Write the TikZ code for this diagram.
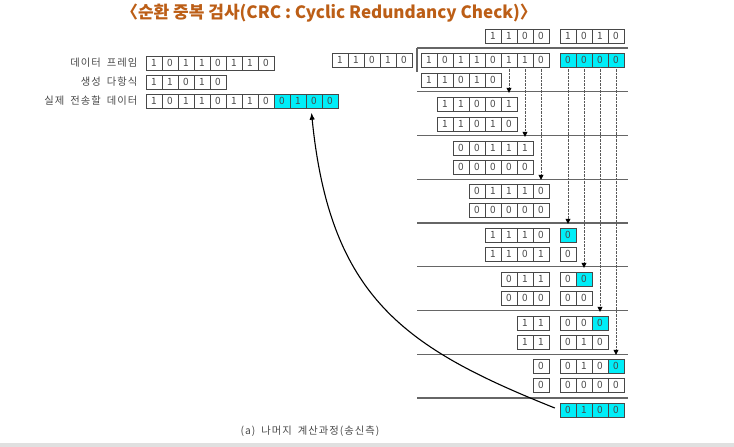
\documentclass[tikz,border=0pt]{standalone}
\usepackage{fontspec}
\setmainfont{Noto Sans CJK KR}
\newfontfamily\krspaced[LetterSpace=10,WordSpace=1.8]{Noto Sans CJK KR}
\usetikzlibrary{arrows.meta}

\definecolor{hotcyan}{RGB}{0,238,248}
\definecolor{titlebrown}{RGB}{188,94,22}
\definecolor{inkgray}{RGB}{72,72,72}

\tikzset{
  cell/.style={draw=inkgray, fill=white, minimum width=16pt, minimum height=14pt,
    inner sep=0pt, font=\fontsize{10}{10}\selectfont, text=inkgray},
  hot/.style={cell, fill=hotcyan},
  rule/.style={draw=black!60, line width=1.1pt},
  drop/.style={densely dotted, black!65, -{Triangle[length=5pt,width=5pt,black]}},
  spaced/.style={font=\krspaced\fontsize{10.3}{11}\selectfont, text=inkgray},
  lbl/.style={spaced, anchor=east},
}

% one row of bit cells: style, name, left x, top y, bits
\newcommand{\bitrow}[5]{%
  \foreach \dg [count=\k] in {#5}
    \node[#1] (#2\k) at ({#3+16*\k-8},{#4+7}) {\dg};}

\begin{document}
\begin{tikzpicture}[x=1pt,y=-1pt]
  \useasboundingbox (0,0) rectangle (734,447);
  \fill[black!12] (0,443) rectangle (734,447);

  \node[font=\fontsize{17}{17}\selectfont\bfseries, text=titlebrown] (title) at (329,13.5)
    {〈순환 중복 검사(CRC : Cyclic Redundancy Check)〉};

  % left side
  \bitrow{cell}{f}{146}{56}{1,0,1,1,0,1,1,0}
  \bitrow{cell}{p}{146}{75}{1,1,0,1,0}
  \bitrow{cell}{t}{146}{94}{1,0,1,1,0,1,1,0}
  \bitrow{hot}{u}{274}{94}{0,1,0,0}
  \node[lbl] (lf) at ([xshift=-5pt]f1.west) {데이터 프레임};
  \node[lbl] (lp) at ([xshift=-5pt]p1.west) {생성 다항식};
  \node[lbl] (lt) at ([xshift=-5pt]t1.west) {실제 전송할 데이터};

  % division frame
  \foreach \yy in {48,91.75,135.5,179.25,223,266.75,310.5,354.25,398}
    \draw[rule] (417,\yy) -- (628,\yy);
  \draw[rule] (417,48) -- (417,72);

  % quotient and divisor
  \bitrow{cell}{q}{485}{29}{1,1,0,0}
  \bitrow{cell}{w}{560}{29}{1,0,1,0}
  \bitrow{cell}{g}{332}{53}{1,1,0,1,0}
  \bitrow{cell}{d}{421}{53}{1,0,1,1,0,1,1,0}
  \bitrow{hot}{z}{560}{53}{0,0,0,0}
  \bitrow{cell}{s}{421}{73}{1,1,0,1,0}

  % steps
  \bitrow{cell}{a1-}{437}{97}{1,1,0,0,1}
  \bitrow{cell}{b1-}{437}{117}{1,1,0,1,0}
  \bitrow{cell}{a2-}{453}{141}{0,0,1,1,1}
  \bitrow{cell}{b2-}{453}{160}{0,0,0,0,0}
  \bitrow{cell}{a3-}{469}{184}{0,1,1,1,0}
  \bitrow{cell}{b3-}{469}{203}{0,0,0,0,0}

  \bitrow{cell}{a4-}{485}{228}{1,1,1,0}
  \bitrow{hot}{h4-}{560}{228}{0}
  \bitrow{cell}{b4-}{485}{247}{1,1,0,1}
  \bitrow{cell}{c4-}{560}{247}{0}

  \bitrow{cell}{a5-}{501}{272}{0,1,1}
  \bitrow{cell}{e5-}{560}{272}{0}
  \bitrow{hot}{h5-}{576}{272}{0}
  \bitrow{cell}{b5-}{501}{291}{0,0,0}
  \bitrow{cell}{c5-}{560}{291}{0,0}

  \bitrow{cell}{a6-}{517}{316}{1,1}
  \bitrow{cell}{e6-}{560}{316}{0,0}
  \bitrow{hot}{h6-}{592}{316}{0}
  \bitrow{cell}{b6-}{517}{335}{1,1}
  \bitrow{cell}{c6-}{560}{335}{0,1,0}

  \bitrow{cell}{a7-}{533}{359}{0}
  \bitrow{cell}{e7-}{560}{359}{0,1,0}
  \bitrow{hot}{h7-}{608}{359}{0}
  \bitrow{cell}{b7-}{533}{378}{0}
  \bitrow{cell}{c7-}{560}{378}{0,0,0,0}

  \bitrow{hot}{r}{560}{403}{0,1,0,0}

  % bring-down arrows
  \draw[drop] (d6.south) -- ([yshift=4pt]a1-5.north);
  \draw[drop] (d7.south) -- ([yshift=4pt]a2-5.north);
  \draw[drop] (d8.south) -- ([yshift=4pt]a3-5.north);
  \draw[drop] (z1.south) -- ([yshift=4pt]h4-1.north);
  \draw[drop] (z2.south) -- ([yshift=4pt]h5-1.north);
  \draw[drop] (z3.south) -- ([yshift=4pt]h6-1.north);
  \draw[drop] (z4.south) -- ([yshift=4pt]h7-1.north);

  % remainder goes back to the frame
  \draw[line width=1.1pt, -{Latex[length=7pt,width=5.5pt]}]
    ([xshift=-5pt,yshift=2pt]r1.west) .. controls (405,348) and (330,298) .. ([xshift=-2.5pt,yshift=-4.5pt]u3.south);

  \node[spaced] (cap) at (310,431) {(a) 나머지 계산과정(송신측)};
\end{tikzpicture}
\end{document}
